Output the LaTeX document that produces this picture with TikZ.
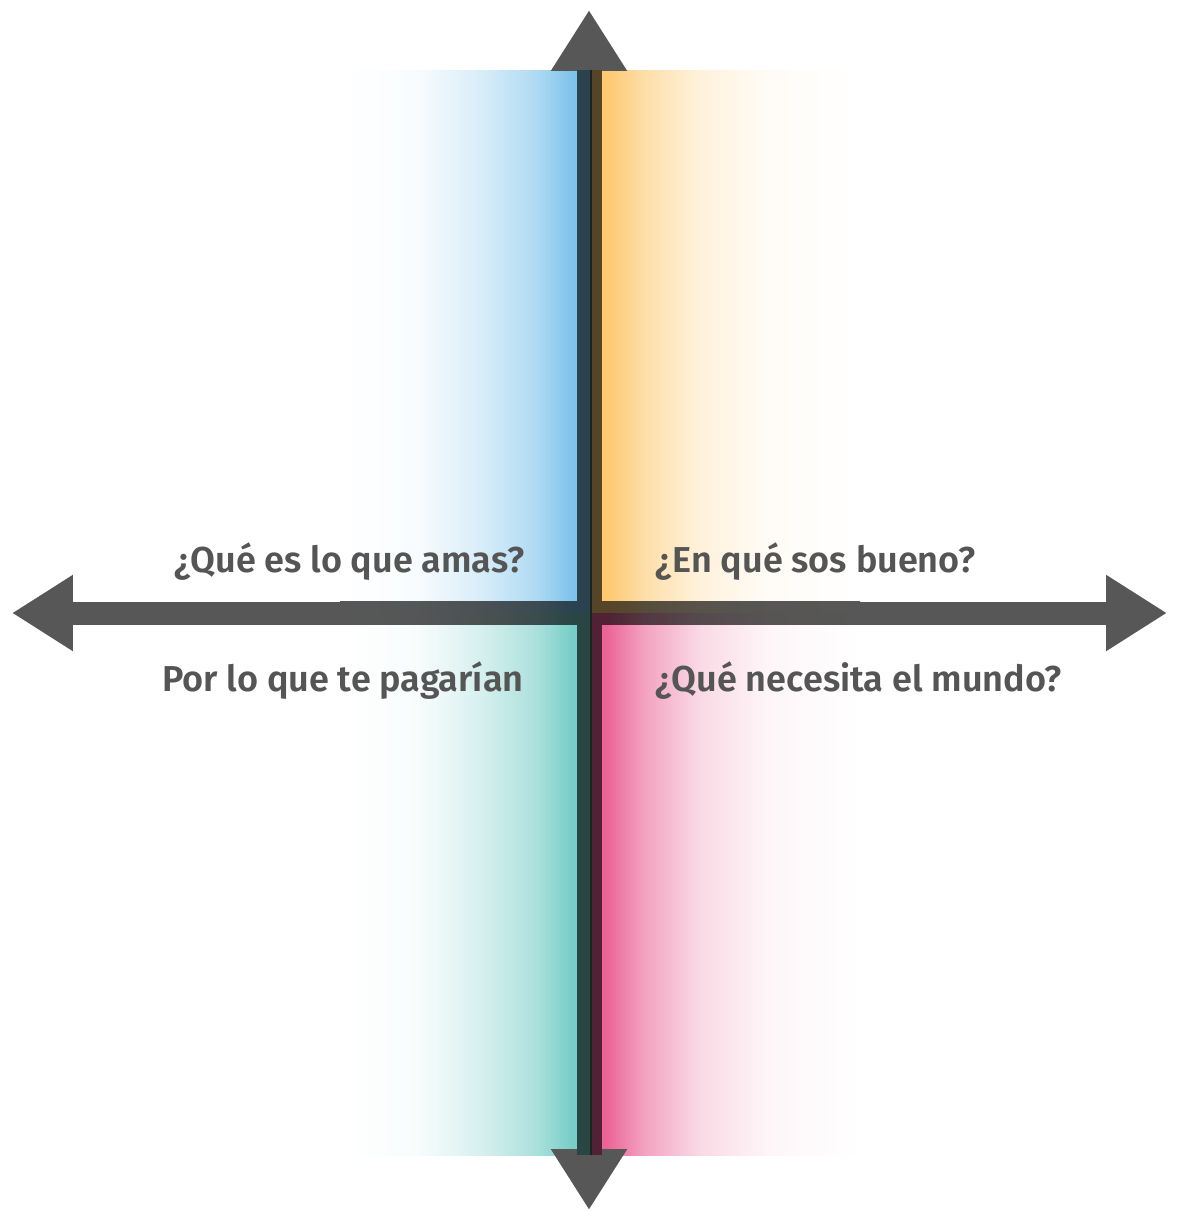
\documentclass[tikz,border=0pt]{standalone}
\usepackage{fontspec}
\setmainfont{Fira Sans}
\newfontfamily\labelfont{Fira Sans SemiBold}
\usetikzlibrary{arrows.meta,positioning}

\definecolor{axisgray}{HTML}{575757}
\definecolor{textgray}{HTML}{555555}
\definecolor{bandblue}{HTML}{7DC3EB}
\definecolor{bandorange}{HTML}{FDC86E}
\definecolor{bandteal}{HTML}{78CDC8}
\definecolor{bandpink}{HTML}{EB6496}
% band colours multiplied onto the grey axis
\definecolor{barblue}{HTML}{2B4350}
\definecolor{barorange}{HTML}{564426}
\definecolor{barteal}{HTML}{294644}
\definecolor{barpink}{HTML}{502233}
\definecolor{barmid}{HTML}{1C2420}

% fades: the filled path spans 25bp..75bp of the shading
\newcommand\fadeleft[3]{\pgfdeclarehorizontalshading{#1}{100bp}{color(0bp)=(#3); color(25bp)=(#3);
  color(40bp)=(#2!5!#3); color(53bp)=(#2!30!#3); color(64bp)=(#2!62!#3);
  color(71bp)=(#2); color(100bp)=(#2)}}
\newcommand\faderight[3]{\pgfdeclarehorizontalshading{#1}{100bp}{color(0bp)=(#2); color(28bp)=(#2);
  color(35bp)=(#2!60!#3); color(45bp)=(#2!25!#3); color(58bp)=(#2!6!#3);
  color(75bp)=(#3); color(100bp)=(#3)}}
\fadeleft{fadeblue}{bandblue}{white}
\fadeleft{fadeteal}{bandteal}{white}
\faderight{fadeorange}{bandorange}{white}
\faderight{fadepink}{bandpink}{white}
\fadeleft{barfadeblue}{barblue}{axisgray}
\fadeleft{barfadeteal}{barteal}{axisgray}
\faderight{barfadeorange}{barorange}{axisgray}
\faderight{barfadepink}{barpink}{axisgray}

\tikzset{%
  axis/.style={
    draw=axisgray,
    line width=0.46cm,
    {Triangle[length=1.22cm,width=1.44cm]}-{Triangle[length=1.22cm,width=1.44cm]}
  },
  vaxis/.style={axis, line width=0.5cm},
  band/.style={draw=none},
  qlabel/.style={
    inner sep=0pt,
    text=textgray,
    font=\labelfont\fontsize{20.5pt}{24pt}\selectfont
  },
}

\begin{document}
\begin{tikzpicture}[x=0.02cm,y=-0.02cm]
  \useasboundingbox (0,0) rectangle (1177,1211);

  \coordinate (left) at (12,613);
  \coordinate (right) at (1167,613);
  \coordinate (top) at (589,10);
  \coordinate (bottom) at (589,1210);

  % coloured quadrants
  \fill[band,shading=fadeblue] (340,70) rectangle (592,613);
  \fill[band,shading=fadeteal] (340,613) rectangle (592,1155);
  \fill[band,shading=fadeorange] (590,70) rectangle (860,613);
  \fill[band,shading=fadepink] (590,613) rectangle (860,1155);

  \draw[axis] (left) -- (right);
  \draw[vaxis] (top) -- (bottom);

  % tint of the axes where the quadrants lie over them
  \fill[band,shading=barfadeblue] (340,601.5) rectangle (592,613);
  \fill[band,shading=barfadeteal] (340,613) rectangle (592,624.5);
  \fill[band,shading=barfadeorange] (590,601.5) rectangle (860,613);
  \fill[band,shading=barfadepink] (590,613) rectangle (860,624.5);
  \fill[barblue] (576.5,70) rectangle (590,613);
  \fill[barteal] (576.5,613) rectangle (590,1155);
  \fill[barorange] (590,70) rectangle (601.5,613);
  \fill[barpink] (590,613) rectangle (601.5,1155);
  \fill[barmid] (590,70) rectangle (592,1155);

  \node[qlabel,anchor=base east] (amas) at (525,572) {¿Qué es lo que amas?};
  \node[qlabel,anchor=base east] (pagarian) at (524,691) {Por lo que te pagarían};
  \node[qlabel,anchor=base west] (bueno) at (655,572) {¿En qué sos bueno?};
  \node[qlabel,anchor=base west] (mundo) at (655,691) {¿Qué necesita el mundo?};
\end{tikzpicture}
\end{document}
